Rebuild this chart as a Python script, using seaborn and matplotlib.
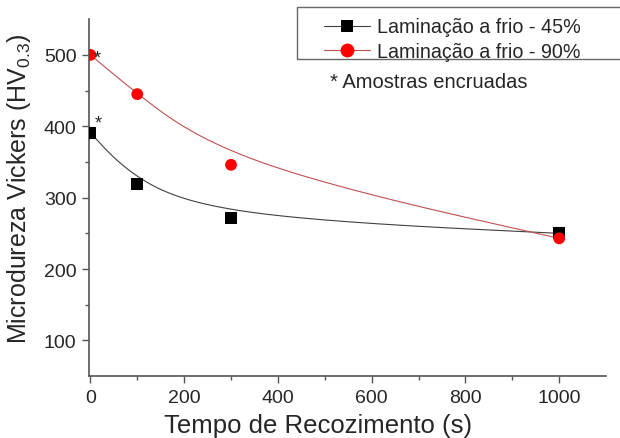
import numpy as np
import pandas as pd
import matplotlib
matplotlib.use("Agg")
import matplotlib.pyplot as plt
import seaborn as sns
from matplotlib.lines import Line2D
from matplotlib.patches import Rectangle

# annealing time (s)
tempo = [0, 100, 300, 1000]
# hardness HV0.3
hv_45 = [391, 319, 272, 250]
hv_90 = [500, 445, 346, 243]
err_45 = [8, 4, 4, 9]
err_90 = [4, 4, 4, 4]

labels = ["Laminação a frio - 45%", "Laminação a frio - 90%"]


def bspline(xs, ys, n=80):
    # uniform cubic B-spline with the data points as control points,
    # end points tripled so the curve starts and ends on them
    P = np.column_stack([xs, ys]).astype(float)
    P = np.vstack([P[0], P[0], P, P[-1], P[-1]])
    M = np.array([[-1, 3, -3, 1], [3, -6, 3, 0], [-3, 0, 3, 0], [1, 4, 1, 0]]) / 6.0
    t = np.linspace(0, 1, n)
    T = np.column_stack([t ** 3, t ** 2, t, np.ones_like(t)])
    out = np.vstack([T @ M @ P[i:i + 4] for i in range(len(P) - 3)])
    return out[:, 0], out[:, 1]


sns.set_style("ticks")
plt.rcParams["font.family"] = ["Liberation Sans", "DejaVu Sans"]
plt.rcParams["mathtext.fontset"] = "custom"
plt.rcParams["mathtext.rm"] = "Liberation Sans"
plt.rcParams["mathtext.it"] = "Liberation Sans"

fig = plt.figure(figsize=(6.2, 4.39), dpi=100)
ax = fig.add_axes([0.1435, 0.141, 0.834, 0.813])

axis_col = "#555555"
c45_line = "#404040"
c90_line = "#c05050"

x1, y1 = bspline(tempo, hv_45)
x2, y2 = bspline(tempo, hv_90)
curves = pd.DataFrame({"x": np.r_[x1, x2], "y": np.r_[y1, y2],
                       "serie": [labels[0]] * len(x1) + [labels[1]] * len(x2)})
sns.lineplot(data=curves, x="x", y="y", hue="serie", ax=ax, estimator=None,
             sort=False, palette=[c45_line, c90_line], linewidth=0.8,
             legend=False)

ax.errorbar(tempo, hv_45, yerr=err_45, fmt="none", ecolor="black",
            elinewidth=0.8, capsize=3, capthick=0.8, zorder=3)
ax.errorbar(tempo, hv_90, yerr=err_90, fmt="none", ecolor="red",
            elinewidth=0.8, capsize=3, capthick=0.8, zorder=3)

pts = pd.DataFrame({"x": tempo + tempo, "y": hv_45 + hv_90,
                    "serie": [labels[0]] * 4 + [labels[1]] * 4})
sns.scatterplot(data=pts, x="x", y="y", hue="serie", style="serie",
                markers={labels[0]: "s", labels[1]: "o"},
                palette={labels[0]: "black", labels[1]: "red"},
                s=72, linewidth=0, ax=ax, legend=False, zorder=4)

ax.text(8, 495, "*", fontsize=13, ha="left", va="center", zorder=5)
ax.text(10, 404, "*", fontsize=13, ha="left", va="center", zorder=5)

ax.set_xlim(-3, 1100)
ax.set_ylim(50, 550)
ax.set_xticks([0, 200, 400, 600, 800, 1000])
ax.set_yticks([100, 200, 300, 400, 500])
ax.set_xticks(np.arange(100, 1100, 200), minor=True)
ax.set_yticks(np.arange(150, 550, 100), minor=True)
ax.tick_params(axis="both", which="major", direction="out", length=5,
               width=1, color=axis_col, labelsize=14, pad=4)
ax.tick_params(axis="both", which="minor", direction="out", length=3,
               width=1, color=axis_col)
for sp in ["top", "right"]:
    ax.spines[sp].set_visible(False)
for sp in ["left", "bottom"]:
    ax.spines[sp].set_color(axis_col)
    ax.spines[sp].set_linewidth(1.2)

ax.set_xlabel("Tempo de Recozimento (s)", fontsize=18.5)
ax.set_ylabel("Microdureza Vickers (HV$_{0.3}$)", fontsize=18)
ax.xaxis.set_label_coords(0.443, -0.102)
ax.yaxis.set_label_coords(-0.108, 0.527)

handles = [
    Line2D([], [], color=c45_line, lw=0.8, marker="s", markersize=8,
           markerfacecolor="black", markeredgewidth=0),
    Line2D([], [], color=c90_line, lw=0.8, marker="o", markersize=10,
           markerfacecolor="red", markeredgewidth=0),
]
fig.legend(handles, labels, loc="upper left", bbox_to_anchor=(0.522, 0.958),
           frameon=False, fontsize=14.2, handlelength=2.35, handletextpad=0.35,
           borderpad=0, borderaxespad=0, labelspacing=0.3)
fig.add_artist(Rectangle((0.479, 0.863), 0.6, 0.118, transform=fig.transFigure,
                         fill=False, edgecolor="#666666", linewidth=1))
fig.text(0.532, 1 - 83 / 439, "* Amostras encruadas", fontsize=14.5,
         ha="left", va="center")

fig.savefig("out.png", dpi=100)
